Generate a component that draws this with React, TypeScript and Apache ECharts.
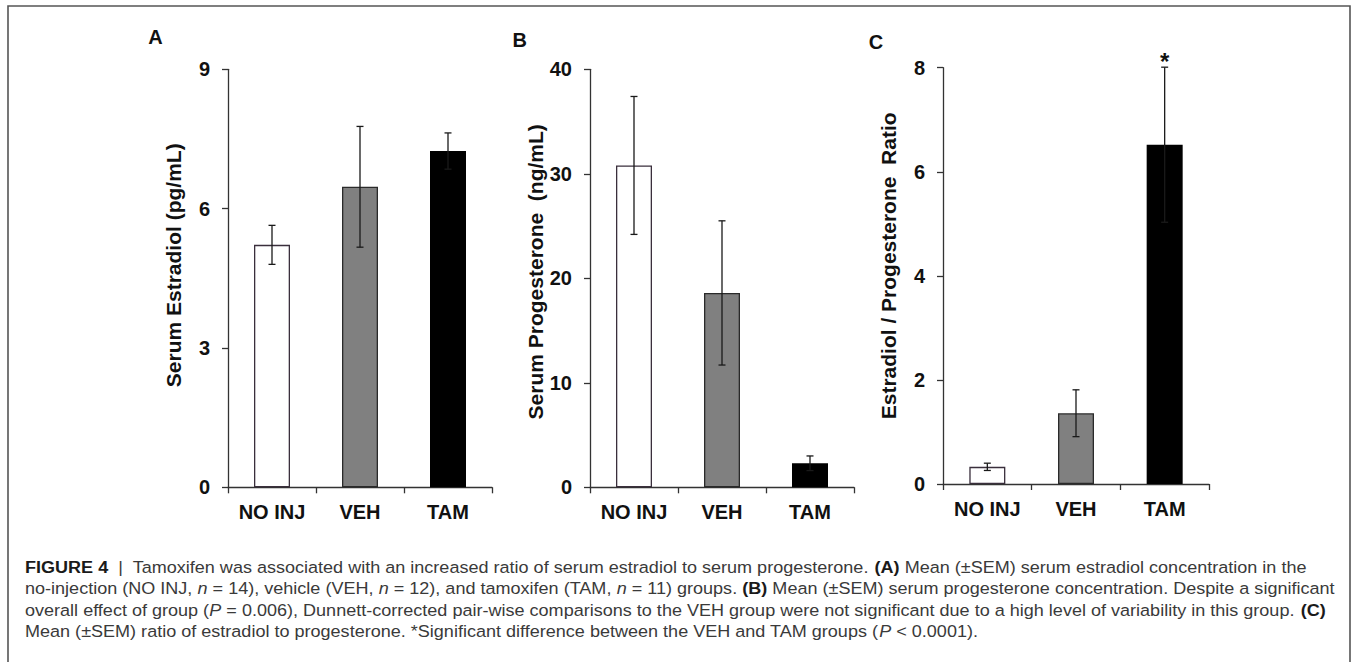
import React, { useEffect, useRef } from "react";
import * as echarts from "echarts";

const categories = ["NO INJ", "VEH", "TAM"];
const estradiolMean = [5.22, 6.47, 7.24];
const estradiolSem = [0.42, 1.3, 0.39];
const progesteroneMean = [30.8, 18.6, 2.3];
const progesteroneSem = [6.6, 6.9, 0.7];
const ratioMean = [0.33, 1.36, 6.52];
const ratioSem = [0.07, 0.45, 1.49];
const ratioSig = ["", "", "*"];
const barColors = ["#ffffff", "#808080", "#000000"];
const barBorders = ["#3a2f3c", "#2a2a2a", "#000000"];
const panelLabels = ["A", "B", "C"];
const axisNames = [
  "Serum Estradiol (pg/mL)",
  "Serum Progesterone  (ng/mL)",
  "Estradiol / Progesterone  Ratio",
];
const yMax = [9, 40, 8];
const yInterval = [3, 10, 2];
const captionLines = [
  "{b|FIGURE 4}  |  Tamoxifen was associated with an increased ratio of serum estradiol to serum progesterone. {b|(A)} Mean (±SEM) serum estradiol concentration in the",
  "no-injection (NO INJ, {i|n} = 14), vehicle (VEH, {i|n} = 12), and tamoxifen (TAM, {i|n} = 11) groups. {b|(B)} Mean (±SEM) serum progesterone concentration. Despite a significant",
  "overall effect of group ({i|P} = 0.006), Dunnett-corrected pair-wise comparisons to the VEH group were not significant due to a high level of variability in this group. {b|(C)}",
  "Mean (±SEM) ratio of estradiol to progesterone. *Significant difference between the VEH and TAM groups ({i|P} < 0.0001).",
];

const FONT = 'Arial, "Liberation Sans", Helvetica, sans-serif';
const AXIS_COLOR = "#333";

const grids = [
  { left: 228, top: 69.3, width: 264, height: 418 },
  { left: 590, top: 69.3, width: 264, height: 418 },
  { left: 943, top: 67.7, width: 266, height: 416.3 },
];
const namePadding = [26, 13, 20];
const labelPos = [
  [155.5, 36.5],
  [519.7, 39.7],
  [876, 41.5],
];
const captionY = [567, 588.5, 610, 631.5];

export default function App() {
  const ref = useRef<HTMLDivElement>(null);
  useEffect(() => {
    if (!ref.current) return;
    const chart = echarts.init(ref.current, null, { renderer: "svg" });
    const means = [estradiolMean, progesteroneMean, ratioMean];
    const sems = [estradiolSem, progesteroneSem, ratioSem];
    const sigs = [["", "", ""], ["", "", ""], ratioSig];

    const xAxis = grids.map((_, i) => ({
      type: "category",
      gridIndex: i,
      data: categories,
      boundaryGap: true,
      axisLine: { show: true, lineStyle: { color: AXIS_COLOR, width: 1.3 } },
      axisTick: { show: true, inside: false, length: 6, alignWithLabel: false, lineStyle: { color: AXIS_COLOR, width: 1.3 } },
      axisLabel: { fontFamily: FONT, fontWeight: "bold", fontSize: 20, color: "#111", margin: 15 },
      splitLine: { show: false },
    }));
    const yAxis = grids.map((_, i) => ({
      type: "value",
      gridIndex: i,
      min: 0,
      max: yMax[i],
      interval: yInterval[i],
      name: axisNames[i],
      nameLocation: "middle",
      nameRotate: 90,
      nameGap: 44,
      nameTextStyle: {
        fontFamily: FONT,
        fontWeight: "bold",
        fontSize: 21,
        color: "#111",
        padding: [0, 0, 0, namePadding[i]],
      },
      axisLine: { show: true, lineStyle: { color: AXIS_COLOR, width: 1.3 } },
      axisTick: { show: true, inside: false, length: 6, lineStyle: { color: AXIS_COLOR, width: 1.3 } },
      axisLabel: { fontFamily: FONT, fontWeight: "bold", fontSize: 20, color: "#111", margin: 18 },
      splitLine: { show: false },
    }));

    const series: any[] = [];
    grids.forEach((_, i) => {
      series.push({
        type: "bar",
        xAxisIndex: i,
        yAxisIndex: i,
        barWidth: 36,
        data: means[i].map((v, k) => ({
          value: v,
          itemStyle: { color: barColors[k], borderColor: barBorders[k], borderWidth: 1.3 },
        })),
      });
      series.push({
        type: "custom",
        xAxisIndex: i,
        yAxisIndex: i,
        z: 5,
        encode: { x: 0, y: 1 },
        data: means[i].map((v, k) => [k, v, sems[i][k]]),
        renderItem: (params: any, api: any) => {
          const x = api.value(0);
          const m = api.value(1);
          const s = api.value(2);
          const top = api.coord([x, m + s]);
          const bot = api.coord([x, m - s]);
          const hw = 3.5;
          const st = { stroke: "#1a1a1a", lineWidth: 1.3 };
          const children: any[] = [
            { type: "line", shape: { x1: top[0], y1: top[1], x2: bot[0], y2: bot[1] }, style: st },
            { type: "line", shape: { x1: top[0] - hw, y1: top[1], x2: top[0] + hw, y2: top[1] }, style: st },
            { type: "line", shape: { x1: bot[0] - hw, y1: bot[1], x2: bot[0] + hw, y2: bot[1] }, style: st },
          ];
          const sig = sigs[i][params.dataIndex];
          if (sig) {
            children.push({
              type: "text",
              x: top[0],
              y: top[1] + 6,
              style: {
                text: sig,
                fontFamily: FONT,
                fontWeight: "bold",
                fontSize: 24,
                fill: "#111",
                textAlign: "center",
                textVerticalAlign: "bottom",
              },
            });
          }
          return { type: "group", children };
        },
      });
    });

    const graphic: any[] = [
      {
        type: "polyline",
        shape: { points: [[8, 662], [8, 6], [1350, 6], [1350, 662]] },
        style: { stroke: "#555", lineWidth: 1.6, fill: "none" },
        silent: true,
      },
    ];
    panelLabels.forEach((t, i) => {
      graphic.push({
        type: "text",
        x: labelPos[i][0],
        y: labelPos[i][1],
        style: {
          text: t,
          fontFamily: FONT,
          fontWeight: "bold",
          fontSize: 20,
          fill: "#111",
          textAlign: "center",
          textVerticalAlign: "middle",
        },
      });
    });
    captionLines.forEach((t, i) => {
      graphic.push({
        type: "text",
        x: 25,
        y: captionY[i],
        scaleX: 1.062,
        style: {
          text: t,
          fontFamily: FONT,
          fontSize: 17,
          fill: "#3a3a3a",
          textAlign: "left",
          textVerticalAlign: "middle",
          rich: {
            b: { fontFamily: FONT, fontSize: 17, fontWeight: "bold", fill: "#1a1a1a" },
            i: { fontFamily: FONT, fontSize: 17, fontStyle: "italic", fill: "#3a3a3a" },
          },
        },
      });
    });

    chart.setOption({
      animation: false,
      backgroundColor: "#ffffff",
      grid: grids.map((g) => ({ ...g, containLabel: false })),
      xAxis,
      yAxis,
      series,
      graphic,
    });
    return () => chart.dispose();
  }, []);
  return (
    <div
      ref={ref}
      style={{ position: "absolute", left: 0, top: 0, width: 1354, height: 662 }}
    />
  );
}
